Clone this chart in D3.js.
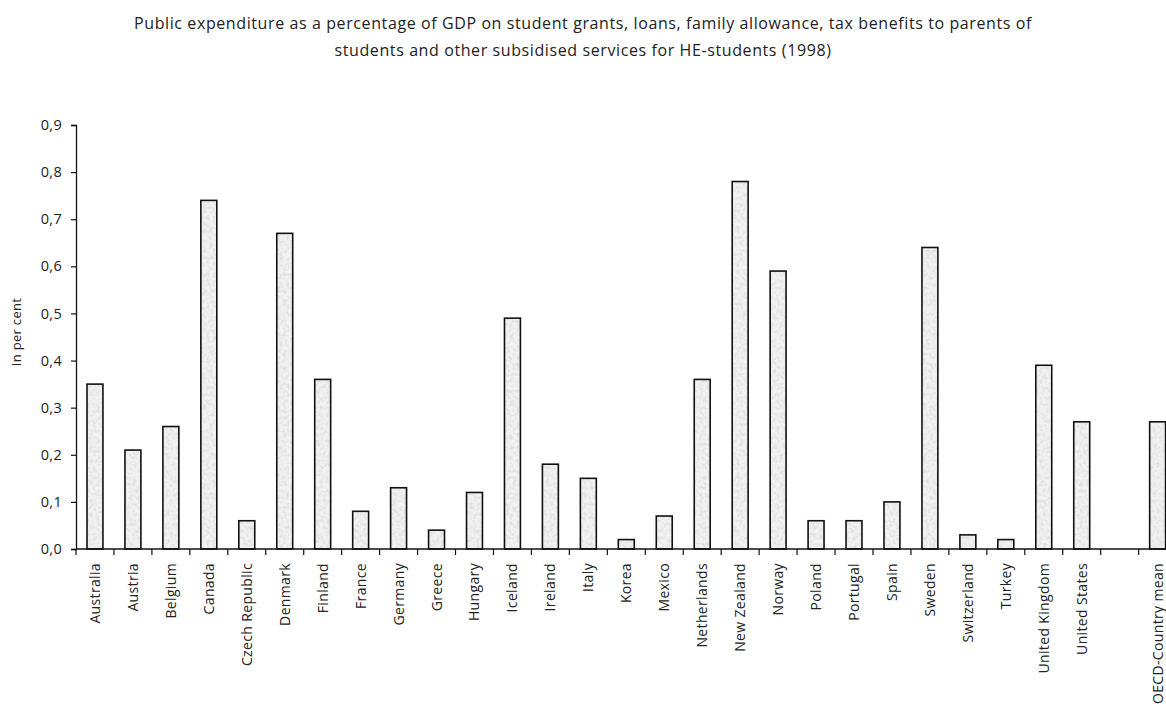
<!DOCTYPE html>
<html>
<head>
<meta charset="utf-8">
<script src="https://cdn.jsdelivr.net/npm/d3@7"></script>
<style>
  html, body { margin: 0; padding: 0; background: #fff; }
  svg { display: block; font-family: "Open Sans", "DejaVu Sans", sans-serif; }
</style>
</head>
<body>
<svg id="chart" width="1166" height="711"></svg>
<script>
const categories = ["Australia","Austria","Belgium","Canada","Czech Republic","Denmark","Finland","France","Germany","Greece","Hungary","Iceland","Ireland","Italy","Korea","Mexico","Netherlands","New Zealand","Norway","Poland","Portugal","Spain","Sweden","Switzerland","Turkey","United Kingdom","United States","","OECD-Country mean"];
const values = [0.35,0.21,0.26,0.74,0.06,0.67,0.36,0.08,0.13,0.04,0.12,0.49,0.18,0.15,0.02,0.07,0.36,0.78,0.59,0.06,0.06,0.10,0.64,0.03,0.02,0.39,0.27,null,0.27];
const yTicks = [0,0.1,0.2,0.3,0.4,0.5,0.6,0.7,0.8,0.9];
const titleLines = ["Public expenditure as a percentage of GDP on student grants, loans, family allowance, tax benefits to parents of","students and other subsidised services for HE-students (1998)"];
const yTitle = "In per cent";

(function () {
const svg = d3.select("#chart");
const mLeft = 76, mRight = 1176.6, mTop = 125, mBottom = 549;

const defs = svg.append("defs");
const filt = defs.append("filter").attr("id","grain").attr("x",0).attr("y",0).attr("width",1).attr("height",1);
filt.append("feTurbulence").attr("type","fractalNoise").attr("baseFrequency",0.3).attr("numOctaves",2).attr("seed",3).attr("result","n");
filt.append("feColorMatrix").attr("in","n").attr("type","matrix")
  .attr("values","0 0 0 0 0.72  0 0 0 0 0.72  0 0 0 0 0.72  0 0 0 -2.2 1.3").attr("result","c");
filt.append("feComposite").attr("in","c").attr("in2","SourceGraphic").attr("operator","in");

const x = d3.scaleBand().domain(d3.range(categories.length)).range([mLeft, mRight]).paddingInner(0.58).paddingOuter(0.29);
const y = d3.scaleLinear().domain([0, 0.9]).range([mBottom, mTop]);

svg.append("g").selectAll("text").data(titleLines).join("text")
  .attr("x", 583).attr("y", (d,i) => 29 + i*27)
  .attr("text-anchor","middle").attr("font-size", 16).attr("letter-spacing", 0.6).attr("fill","#222")
  .text(d => d);

const barData = values.map((v,i) => ({v,i})).filter(d => d.v !== null);
const bars = svg.append("g");
bars.selectAll("rect.base").data(barData).join("rect").attr("class","base")
  .attr("x", d => x(d.i)).attr("width", x.bandwidth())
  .attr("y", d => y(d.v)).attr("height", d => y(0) - y(d.v))
  .attr("fill","#f1f1f1");
bars.selectAll("rect.grain").data(barData).join("rect").attr("class","grain")
  .attr("x", d => x(d.i)).attr("width", x.bandwidth())
  .attr("y", d => y(d.v)).attr("height", d => y(0) - y(d.v))
  .attr("fill","#f1f1f1").attr("filter","url(#grain)");
bars.selectAll("rect.outline").data(barData).join("rect").attr("class","outline")
  .attr("x", d => x(d.i)).attr("width", x.bandwidth())
  .attr("y", d => y(d.v)).attr("height", d => y(0) - y(d.v))
  .attr("fill","none").attr("stroke","#111").attr("stroke-width",1.6);

const yAxis = svg.append("g").attr("transform", `translate(${mLeft},0)`)
  .call(d3.axisLeft(y).tickValues(yTicks).tickSize(5).tickPadding(9)
    .tickFormat(d => d3.format(".1f")(d).replace(".", ",")));
yAxis.select(".domain").attr("stroke","#111").attr("stroke-width",1.3);
yAxis.selectAll(".tick line").attr("stroke","#111").attr("stroke-width",1.2);
yAxis.selectAll(".tick text").attr("font-size",14.5).attr("letter-spacing",0.3).attr("fill","#222").attr("font-family","Open Sans, sans-serif");

const xg = svg.append("g").attr("transform", `translate(0,${mBottom})`);
xg.append("line").attr("x1", mLeft).attr("x2", mRight).attr("stroke","#111").attr("stroke-width",1.3);
const bounds = d3.range(categories.length + 1).map(i => i === categories.length ? mRight : x(i) - x.step()*x.paddingInner()/2);
xg.selectAll("line.tk").data(bounds).join("line").attr("class","tk")
  .attr("x1", d => d).attr("x2", d => d).attr("y1", 0).attr("y2", 6)
  .attr("stroke","#111").attr("stroke-width",1.2);
xg.selectAll("text").data(categories).join("text")
  .attr("transform", (d,i) => `translate(${x(i) + x.bandwidth()/2 + 5},14) rotate(-90)`)
  .attr("text-anchor","end").attr("font-size",14).attr("letter-spacing",0.35).attr("fill","#222")
  .text(d => d);

svg.append("text").attr("transform","translate(21,332) rotate(-90)")
  .attr("text-anchor","middle").attr("font-size",13).attr("letter-spacing",0.3).attr("fill","#222").text(yTitle);
})();
</script>
</body>
</html>
